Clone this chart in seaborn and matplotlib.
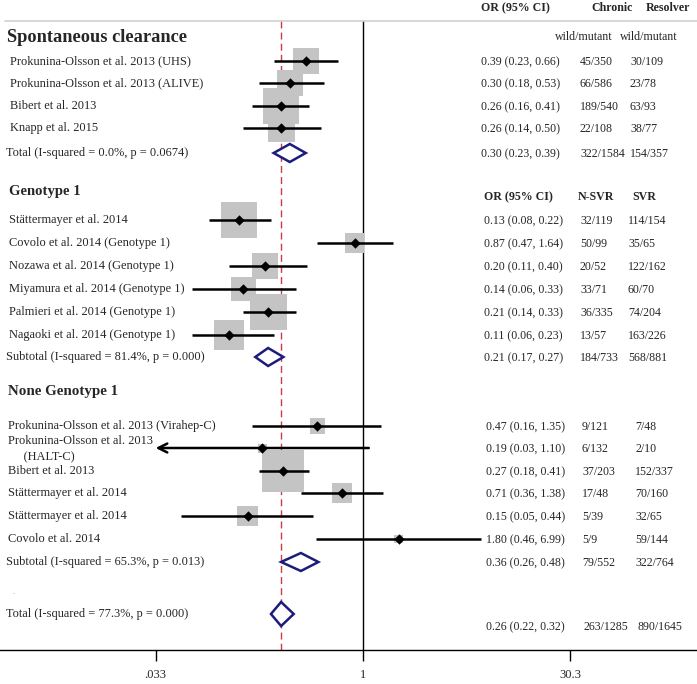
import numpy as np
import pandas as pd
import matplotlib
matplotlib.use('Agg')
import matplotlib.pyplot as plt
import matplotlib.transforms as mtransforms
import seaborn as sns

# 研究数据
group_names = ['Spontaneous clearance', 'Genotype 1', 'None Genotype 1']

studies = [
    'Prokunina-Olsson et al. 2013 (UHS)',
    'Prokunina-Olsson et al. 2013 (ALIVE)',
    'Bibert et al. 2013',
    'Knapp et al. 2015',
    'Stättermayer et al. 2014',
    'Covolo et al. 2014 (Genotype 1)',
    'Nozawa et al. 2014 (Genotype 1)',
    'Miyamura et al. 2014 (Genotype 1)',
    'Palmieri et al. 2014 (Genotype 1)',
    'Nagaoki et al. 2014 (Genotype 1)',
    'Prokunina-Olsson et al. 2013 (Virahep-C)',
    'Prokunina-Olsson et al. 2013\n     (HALT-C)',
    'Bibert et al. 2013',
    'Stättermayer et al. 2014',
    'Stättermayer et al. 2014',
    'Covolo et al. 2014',
]
study_group = [0, 0, 0, 0, 1, 1, 1, 1, 1, 1, 2, 2, 2, 2, 2, 2]
or_est = [0.39, 0.30, 0.26, 0.26, 0.13, 0.87, 0.20, 0.14, 0.21, 0.11,
          0.47, 0.19, 0.27, 0.71, 0.15, 1.80]
ci_low = [0.23, 0.18, 0.16, 0.14, 0.08, 0.47, 0.11, 0.06, 0.14, 0.06,
          0.16, 0.03, 0.18, 0.36, 0.05, 0.46]
ci_high = [0.66, 0.53, 0.41, 0.50, 0.22, 1.64, 0.40, 0.33, 0.33, 0.23,
           1.35, 1.10, 0.41, 1.38, 0.44, 6.99]
count_a = ['45/350', '66/586', '189/540', '22/108', '32/119', '50/99', '20/52',
           '33/71', '36/335', '13/57', '9/121', '6/132', '37/203', '17/48',
           '5/39', '5/9']
count_b = ['30/109', '23/78', '63/93', '38/77', '114/154', '35/65', '122/162',
           '60/70', '74/204', '163/226', '7/48', '2/10', '152/337', '70/160',
           '32/65', '59/144']
weights = [8.5, 8.5, 15.5, 9.0, 16.0, 4.9, 8.3, 7.5, 16.9, 11.1,
           2.8, 1.0, 21.8, 4.9, 5.4, 0.9]

pooled_labels = ['Total (I-squared = 0.0%, p = 0.0674)',
                 'Subtotal (I-squared = 81.4%, p = 0.000)',
                 'Subtotal (I-squared = 65.3%, p = 0.013)',
                 'Total (I-squared = 77.3%, p = 0.000)']
pooled_or = [0.30, 0.21, 0.36, 0.26]
pooled_low = [0.23, 0.17, 0.26, 0.22]
pooled_high = [0.39, 0.27, 0.48, 0.32]
pooled_a = ['322/1584', '184/733', '79/552', '263/1285']
pooled_b = ['154/357', '568/881', '322/764', '890/1645']

tick_values = [0.033, 1, 30.3]
tick_labels = ['.033', '1', '30.3']

# 版面 (像素位置)
W, H = 697, 684
AXIS_Y = 650
X_ONE, PX_PER_LN = 363, 60.8
study_y = [61, 83, 106, 128, 220, 243, 266, 289, 312, 335,
           426, 448, 471, 493, 516, 539]
pooled_y = [153, 357, 562, 614]
header_y = [37, 192, 392]
header_size = [13.2, 10.6, 10.8]
label_x = [10, 9, 8]


def px2x(px):
    return np.exp((px - X_ONE) / PX_PER_LN)


def diamond(ax, est, lo, hi, y, h):
    xs = [lo, est, hi, est, lo]
    ys = [y, y - h, y, y + h, y]
    ax.fill(xs, ys, facecolor='white', edgecolor='#1c1c7c', lw=1.8, zorder=5)


def plot_forest():
    df = pd.DataFrame({'study': studies, 'group': study_group, 'or': or_est,
                       'lo': ci_low, 'hi': ci_high, 'a': count_a, 'b': count_b,
                       'w': weights, 'y': study_y})

    fig = plt.figure(figsize=(W / 100, H / 100), dpi=100)
    ax = fig.add_axes([0, (H - AXIS_Y) / H, 1, AXIS_Y / H])
    ax.set_xscale('log')
    ax.set_xlim(px2x(0), px2x(W))
    ax.set_ylim(AXIS_Y, 0)
    tr = mtransforms.blended_transform_factory(ax.transAxes, ax.transData)

    # 参考线
    ax.plot([1, 1], [21, AXIS_Y], color='black', lw=1, zorder=1)
    ax.plot([pooled_or[3]] * 2, [21, AXIS_Y], color='#d03848', lw=1,
            dashes=(5, 3), zorder=1)
    ax.plot([5 / W, 1], [21, 21], color='#d0d0d0', lw=1.2, transform=tr)

    # 权重方块
    side_pt = 9 * np.sqrt(df['w']) * 0.72
    ax.scatter(df['or'], df['y'], s=side_pt ** 2, marker='s', color='#c4c4c4',
               linewidths=0, zorder=2)

    # 置信区间
    x_min = tick_values[0]
    for _, r in df.iterrows():
        if r['lo'] < x_min:
            ax.annotate('', xy=(x_min, r['y']), xytext=(r['hi'], r['y']),
                        arrowprops=dict(arrowstyle='->', lw=1.8, color='black',
                                        mutation_scale=16, shrinkA=0, shrinkB=0),
                        zorder=3)
        else:
            ax.plot([r['lo'], r['hi']], [r['y'], r['y']], color='black',
                    lw=1.8, zorder=3, solid_capstyle='butt')

    sns.scatterplot(data=df, x='or', y='y', marker='D', color='black', s=28,
                    linewidth=0, ax=ax, zorder=4, legend=False)

    for i in range(4):
        diamond(ax, pooled_or[i], pooled_low[i], pooled_high[i], pooled_y[i],
                12 if i == 3 else 9)

    # 文字
    fs = 8.9
    tfs = 8.6
    for g in range(3):
        ax.text(label_x[g] / W - (0.004 if g == 0 else 0), header_y[g],
                group_names[g], transform=tr, fontsize=header_size[g],
                fontweight='bold', va='center')

    col_x = [[481, 580, 630], [484, 580, 628], [486, 582, 635]]
    for _, r in df.iterrows():
        g = r['group']
        if '\n' in r['study']:
            ax.text(label_x[g] / W, r['y'] + 1, r['study'], transform=tr,
                    fontsize=fs, va='center', linespacing=1.55)
        else:
            ax.text(label_x[g] / W, r['y'], r['study'], transform=tr,
                    fontsize=fs, va='center')
        cx = col_x[g]
        ax.text(cx[0] / W, r['y'] + 1, f"{r['or']:.2f} ({r['lo']:.2f}, {r['hi']:.2f})",
                transform=tr, fontsize=tfs, va='center')
        ax.text(cx[1] / W, r['y'] + 1, r['a'], transform=tr, fontsize=tfs, va='center')
        ax.text(cx[2] / W, r['y'] + 1, r['b'], transform=tr, fontsize=tfs, va='center')

    pooled_col = [[481, 580, 630], [484, 580, 628], [486, 582, 635], [486, 583, 638]]
    for i in range(4):
        ax.text(6 / W, pooled_y[i], pooled_labels[i], transform=tr, fontsize=fs,
                va='center')
        vy = pooled_y[i] + (13 if i == 3 else 1)
        cx = pooled_col[i]
        ax.text(cx[0] / W, vy, f"{pooled_or[i]:.2f} ({pooled_low[i]:.2f}, {pooled_high[i]:.2f})",
                transform=tr, fontsize=tfs, va='center')
        ax.text(cx[1] / W, vy, pooled_a[i], transform=tr, fontsize=tfs, va='center')
        ax.text(cx[2] / W, vy, pooled_b[i], transform=tr, fontsize=tfs, va='center')

    # 表头
    ax.text(481 / W, 8, 'OR (95% CI)', transform=tr, fontsize=tfs, fontweight='bold', va='center')
    ax.text(591 / W, 8, 'Chronic', transform=tr, fontsize=tfs, fontweight='bold', va='center')
    ax.text(646 / W, 8, 'Resolver', transform=tr, fontsize=tfs, fontweight='bold', va='center')
    ax.text(555 / W, 37, 'wild/mutant', transform=tr, fontsize=tfs, va='center')
    ax.text(620 / W, 37, 'wild/mutant', transform=tr, fontsize=tfs, va='center')
    ax.text(484 / W, 197, 'OR (95% CI)', transform=tr, fontsize=tfs, fontweight='bold', va='center')
    ax.text(578 / W, 197, 'N-SVR', transform=tr, fontsize=tfs, fontweight='bold', va='center')
    ax.text(632 / W, 197, 'SVR', transform=tr, fontsize=tfs, fontweight='bold', va='center')
    ax.text(12 / W, 592, '.', transform=tr, fontsize=6, color='#999999', va='center')

    # 坐标轴
    sns.despine(ax=ax, left=True, top=True, right=True)
    ax.spines['bottom'].set_linewidth(1)
    ax.spines['bottom'].set_color('black')
    ax.set_xticks(tick_values)
    ax.set_xticklabels(tick_labels)
    ax.xaxis.set_minor_locator(matplotlib.ticker.NullLocator())
    ax.set_yticks([])
    ax.tick_params(axis='x', direction='out', length=8, width=1, labelsize=9,
                   pad=6, color='black', bottom=True)
    ax.set_xlabel('')
    ax.set_ylabel('')

    fig.savefig('out.png', dpi=100)
    plt.close(fig)


def main():
    sns.set_theme(style='white')
    plt.rcParams['font.family'] = ['Liberation Serif', 'DejaVu Serif']
    plot_forest()


if __name__ == "__main__":
    main()
